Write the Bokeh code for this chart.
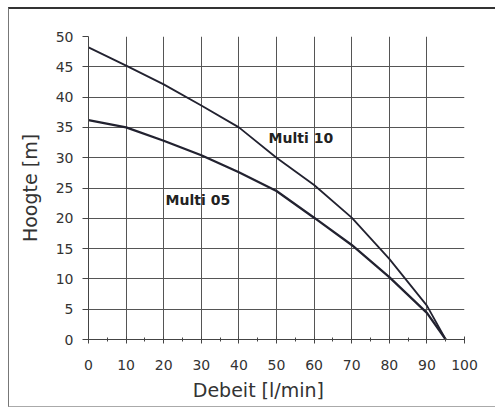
from bokeh.plotting import figure
from bokeh.models import FixedTicker, Label
from bokeh.embed import file_html
from bokeh.resources import INLINE

# data
debiet = [0, 10, 20, 30, 40, 50, 60, 70, 80, 90, 95]
multi10 = [48.2, 45.2, 42.1, 38.6, 35.0, 30.0, 25.5, 20.1, 13.3, 5.6, 0.0]
multi05 = [36.2, 35.0, 32.8, 30.4, 27.6, 24.5, 20.1, 15.6, 10.3, 4.4, 0.0]
x_ticks = [0, 10, 20, 30, 40, 50, 60, 70, 80, 90, 100]
y_ticks = [0, 5, 10, 15, 20, 25, 30, 35, 40, 45, 50]
x_grid = [10, 20, 30, 40, 50, 60, 70, 80, 90]
y_grid = [5, 10, 15, 20, 25, 30, 35, 40, 45]
x_title = "Debeit [l/min]"
y_title = "Hoogte [m]"

FONT = "DejaVu Sans"
INK = "#222230"

p = figure(width=487, height=400, output_backend="svg", toolbar_location=None,
           x_range=(0, 100), y_range=(0, 50),
           min_border_left=79, min_border_right=32, min_border_top=27, min_border_bottom=70,
           x_axis_label=x_title + "\u00a0" * 6, y_axis_label=y_title)
p.outline_line_color = None
p.background_fill_color = "white"
p.border_fill_color = "white"
p.styles = {"margin-left": "8px", "margin-top": "7px",
            "border-top": "2px solid #333", "border-left": "1px solid #777",
            "border-bottom": "1px solid #aaa"}

p.xgrid.ticker = FixedTicker(ticks=x_grid)
p.ygrid.ticker = FixedTicker(ticks=y_grid)
for g in (p.xgrid, p.ygrid):
    g.grid_line_color = "#555555"
    g.grid_line_width = 1

p.xaxis.ticker = FixedTicker(ticks=x_ticks, minor_ticks=list(range(5, 100, 10)))
p.yaxis.ticker = FixedTicker(ticks=y_ticks)

for ax in (p.xaxis, p.yaxis):
    ax.axis_line_color = "#444444"
    ax.major_tick_line_color = "#444444"
    ax.minor_tick_line_color = "#444444"
    ax.major_label_text_font = FONT
    ax.major_label_text_font_size = "14px"
    ax.major_label_text_color = "#333333"
    ax.axis_label_text_font = FONT
    ax.axis_label_text_font_size = "19px"
    ax.axis_label_text_font_style = "normal"
    ax.axis_label_text_color = "#333333"

p.xaxis.major_tick_in = 3
p.xaxis.major_tick_out = 4
p.xaxis.minor_tick_in = 2
p.xaxis.minor_tick_out = 2
p.xaxis.major_label_standoff = 16
p.xaxis.axis_label_standoff = 6

p.yaxis.major_tick_in = 0
p.yaxis.major_tick_out = 6
p.yaxis.minor_tick_in = 0
p.yaxis.minor_tick_out = 0
p.yaxis.major_label_standoff = 9
p.yaxis.axis_label_standoff = 12

p.line(debiet, multi10, line_color=INK, line_width=1.8)
p.line(debiet, multi05, line_color=INK, line_width=2.3)

p.add_layout(Label(x=47.9, y=33.2, text="Multi 10", text_font=FONT, text_font_size="14px",
                   text_font_style="bold", text_color="#222222", text_baseline="middle"))
p.add_layout(Label(x=20.5, y=23.1, text="Multi 05", text_font=FONT, text_font_size="14px",
                   text_font_style="bold", text_color="#222222", text_baseline="middle"))

open("out.html", "w").write(file_html(p, INLINE))
